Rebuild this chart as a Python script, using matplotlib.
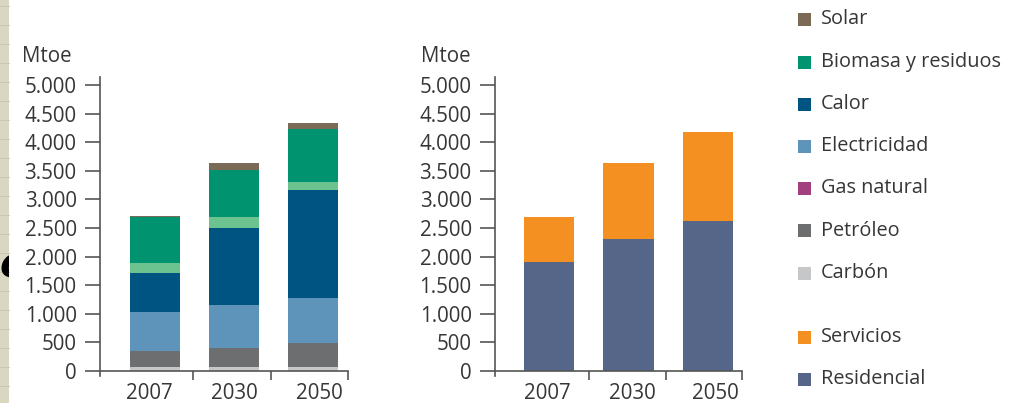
import matplotlib
matplotlib.use("Agg")
import matplotlib.pyplot as plt
from matplotlib.patches import Rectangle
from matplotlib.ticker import FuncFormatter

# ---------------- data ----------------
years = ["2007", "2030", "2050"]

# left chart (stacked, bottom -> top), Mtoe
carbon = [75, 75, 75]
petroleo = [280, 322, 409]
electricidad = [671, 757, 798]
calor = [682, 1351, 1882]
otros_renov = [180, 182, 146]   # light-green band (no legend entry)
biomasa = [799, 827, 921]
solar = [28, 116, 99]

# right chart
residencial = [1910, 2310, 2620]
servicios = [780, 1320, 1550]

yticks = [0, 500, 1000, 1500, 2000, 2500, 3000, 3500, 4000, 4500, 5000]

legend_labels = ["Solar", "Biomasa y residuos", "Calor", "Electricidad",
                 "Gas natural", "Petróleo", "Carbón", "Servicios", "Residencial"]

# ---------------- style ----------------
C_SOLAR = "#7b6a56"
C_BIOM = "#00936f"
C_LGREEN = "#6dc38f"
C_CALOR = "#005482"
C_ELEC = "#5e94ba"
C_GAS = "#a23f7d"
C_PETR = "#6d6e70"
C_CARB = "#c6c7c9"
C_SERV = "#f39021"
C_RES = "#566688"

TXT = "#363636"
SPINE = "#555555"
plt.rcParams["font.family"] = ["Open Sans", "DejaVu Sans"]

W, H = 1015, 403
fig = plt.figure(figsize=(W / 100, H / 100), dpi=100)
fig.patch.set_facecolor("white")

# textured strip on the left edge
strip = Rectangle((0, 0), 8.5 / W, 1, transform=fig.transFigure,
                  facecolor="#d9d6c1", edgecolor="none", zorder=-5)
fig.add_artist(strip)
for yy in range(6, H, 19):
    fig.add_artist(plt.Line2D([0, 8.5 / W], [1 - yy / H, 1 - yy / H],
                              transform=fig.transFigure, color="#c9c6ae",
                              lw=0.6, zorder=-4))
e_txt = fig.text(-1 / W, 1 - 277 / H, "e", fontsize=30, fontweight="bold",
                 style="italic", color="black", family="DejaVu Sans",
                 ha="left", va="baseline")
e_txt.set_clip_path(Rectangle((0, 0), 8.5 / W, 1, transform=fig.transFigure))

YMIN, YMAX = -90, 5140
PX_PER_UNIT = 57.2 / 1000.0


def make_axes(left_px, right_px):
    top = 371 - YMAX * PX_PER_UNIT
    bottom = 371 - YMIN * PX_PER_UNIT
    return fig.add_axes([left_px / W, 1 - bottom / H,
                         (right_px - left_px) / W, (bottom - top) / H])


def style_axes(ax, xl, xr, bounds, label_pos):
    ax.set_xlim(xl, xr)
    ax.set_ylim(YMIN, YMAX)
    for s in ("top", "right"):
        ax.spines[s].set_visible(False)
    ax.spines["bottom"].set_position(("data", 0))
    for s in ("left", "bottom"):
        ax.spines[s].set_color(SPINE)
        ax.spines[s].set_linewidth(1.2)
    ax.set_yticks(yticks)
    ax.yaxis.set_major_formatter(FuncFormatter(lambda v, p: f"{int(v):,}".replace(",", ".")))
    ax.tick_params(axis="y", direction="out", length=10.5, width=1.2,
                   color=SPINE, labelsize=14.8, labelcolor=TXT, pad=6.3)
    ax.set_xticks(bounds)
    ax.set_xticklabels([])
    ax.tick_params(axis="x", which="major", direction="out", length=6.5,
                   width=1.2, color=SPINE)
    ax.set_xticks(label_pos, minor=True)
    ax.set_xticklabels(years, minor=True)
    ax.tick_params(axis="x", which="minor", length=0, labelsize=14.8,
                   labelcolor=TXT, pad=8.5)
    ax.patch.set_alpha(0)


x = [0, 1, 2]
BW = 0.635

# ---------------- left chart ----------------
ax1 = make_axes(100, 348)
series = [(carbon, C_CARB), (petroleo, C_PETR), (electricidad, C_ELEC),
          (calor, C_CALOR), (otros_renov, C_LGREEN), (biomasa, C_BIOM),
          (solar, C_SOLAR)]
base = [0, 0, 0]
for vals, col in series:
    ax1.bar(x, vals, BW, bottom=base, color=col, edgecolor="none", zorder=2)
    base = [b + v for b, v in zip(base, vals)]
style_axes(ax1, -0.696, 2.443, [0.481, 1.468, 2.443], [-0.07, 1.01, 2.08])
fig.text(22 / W, 1 - 62 / H, "Mtoe", fontsize=14.8, color=TXT,
         ha="left", va="baseline")

# ---------------- right chart ----------------
ax2 = make_axes(495, 742)
ax2.bar(x, residencial, BW, color=C_RES, edgecolor="none", zorder=2)
ax2.bar(x, servicios, BW, bottom=residencial, color=C_SERV,
        edgecolor="none", zorder=2)
style_axes(ax2, -0.684, 2.43, [0.506, 1.468, 2.43], [-0.03, 1.05, 2.09])
fig.text(421 / W, 1 - 62 / H, "Mtoe", fontsize=14.8, color=TXT,
         ha="left", va="baseline")

# ---------------- legend ----------------
legend_colors = [C_SOLAR, C_BIOM, C_CALOR, C_ELEC, C_GAS, C_PETR, C_CARB,
                 C_SERV, C_RES]
row_y = [19, 61.5, 104, 146, 188, 230.5, 273, 336.5, 378.5]
for lab, col, yc in zip(legend_labels, legend_colors, row_y):
    fig.add_artist(Rectangle((798 / W, 1 - (yc + 7) / H), 12.5 / W, 13 / H,
                             transform=fig.transFigure, facecolor=col,
                             edgecolor="none"))
    fig.text(821 / W, 1 - yc / H, lab, fontsize=14.3, color=TXT,
             ha="left", va="center")

fig.savefig("out.png", dpi=100)
